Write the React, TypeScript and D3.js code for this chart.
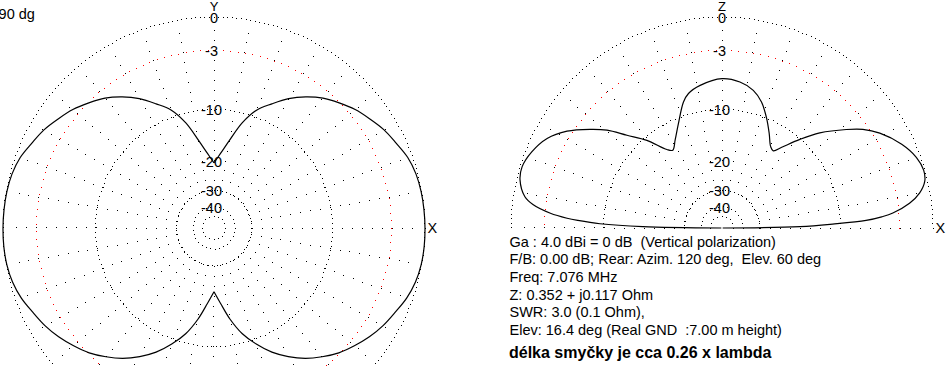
import React from 'react';
import * as d3 from 'd3';

const W = 948;
const H = 366;
const R = 211;
const leftCenter: [number, number] = [214, 228];
const rightCenter: [number, number] = [722, 228];

// grid rings (dB) and labels
const ringDb = [0, -10, -30, -40, -50];
const redRingDb = -3;
const labelDb = [0, -3, -10, -20, -30, -40];
const labelText = ['0', '-3', '-10', '-20', '-30', '-40'];
const spokeStepDeg = 10;

// azimuth pattern (horizontal plane), gain in dB every 5 deg, CCW from +X
const azStepDeg = 5;
const azGainDb = [
  0, -0.02, -0.06, -0.16, -0.4, -0.85, -1.25, -1.8, -2.35, -3.05, -3.8, -4.8, -6.0, -7.5, -9.0, -11.5, -15.0, -18.0,
  -20.4,
  -18.0, -15.0, -11.5, -9.0, -7.5, -6.0, -4.8, -3.8, -3.05, -2.35, -1.8, -1.25, -0.85, -0.4, -0.16, -0.06, -0.02,
  0,
  0, -0.05, -0.2, -0.5, -0.95, -1.35, -1.85, -2.45, -3.1, -3.95, -4.9, -6.1, -7.5, -9.3, -11.4, -14.3, -17.8,
  -20.8,
  -17.8, -14.3, -11.4, -9.3, -7.5, -6.1, -4.9, -3.95, -3.1, -2.45, -1.85, -1.35, -0.95, -0.5, -0.2, -0.05, 0,
];

// elevation pattern (vertical plane), angle from +X horizon
const elevAngleDeg = [
  0, 1, 2, 3, 4, 5, 7.5, 10, 13, 16, 20, 25, 31, 35, 38.4, 44.2, 48.7, 53.5, 56.4, 59.1, 63.5, 67.8, 72.6, 77.2, 83,
  90,
  98.7, 104, 107, 112.6, 118.1, 122.3, 125.1, 130.6, 135.7, 139.6, 143.2, 148, 152.9, 158.2, 163, 166.6, 171, 173,
  175.1, 176.4, 177, 178, 179, 180,
];
const elevGainDb = [
  -99, -17.3, -11.2, -6.6, -4.8, -3.6, -1.9, -0.88, -0.24, -0.1, -0.35, -1.08, -2.37, -3.55, -4.96, -7.58, -10.1,
  -12.9, -14.3, -13.9, -12.0, -10.06, -8.14, -6.98, -6.27,
  -6.0,
  -6.6, -7.3, -8.18, -10.8, -13.05, -14.4, -13.7, -10.47, -8.04, -5.81, -4.3, -2.5, -1.24, -0.51, -0.16, -0.28,
  -0.97, -1.81, -3.53, -5.33, -6.6, -9.5, -17.0, -99,
];

const cornerText = '90 dg';
const infoLines = [
  'Ga : 4.0 dBi = 0 dB  (Vertical polarization)',
  'F/B: 0.00 dB; Rear: Azim. 120 deg,  Elev. 60 deg',
  'Freq: 7.076 MHz',
  'Z: 0.352 + j0.117 Ohm',
  'SWR: 3.0 (0.1 Ohm),',
  'Elev: 16.4 deg (Real GND  :7.00 m height)',
];
const boldLine = 'délka smyčky je cca 0.26 x lambda';

const FONT = '"Liberation Sans", Arial, sans-serif';

const amp = d3.scaleSqrt().domain([0, 1]).range([0, R]);
const rOf = (db: number) => amp(Math.pow(10, db / 20));
const rad = (deg: number) => (deg * Math.PI) / 180;

function ringDots(cx: number, cy: number, r: number, spacing: number, half: boolean) {
  const n = Math.max(8, Math.round((2 * Math.PI * r) / spacing));
  const pts: [number, number][] = [];
  for (let i = 0; i < n; i++) {
    const a = (i / n) * 2 * Math.PI;
    const x = cx + r * Math.cos(a);
    const y = cy - r * Math.sin(a);
    if (half && y > cy + 0.6) continue;
    pts.push([Math.round(x - 0.5), Math.round(y - 0.5)]);
  }
  return pts;
}

function spokeDots(cx: number, cy: number, half: boolean) {
  const pts: [number, number][] = [];
  const maxA = half ? 180 : 350;
  const rMin = rOf(-30);
  for (let a = 0; a <= maxA; a += spokeStepDeg) {
    for (let k = 1; ; k++) {
      const r = R - 3 - 10 * k;
      if (r < rMin) break;
      pts.push([Math.round(cx + r * Math.cos(rad(a)) - 0.5), Math.round(cy - r * Math.sin(rad(a)) - 0.5)]);
    }
  }
  return pts;
}

type P = { a: number; g: number };

const radial = d3
  .lineRadial<P>()
  .angle((d) => Math.PI / 2 - rad(d.a))
  .radius((d) => rOf(d.g))
  .curve(d3.curveCatmullRom.alpha(0.5));

function Grid({ c, half, axisTop, axisRight }: { c: [number, number]; half: boolean; axisTop: string; axisRight: string }) {
  const [cx, cy] = c;
  const black: [number, number][] = [];
  ringDb.forEach((db) => black.push(...ringDots(cx, cy, rOf(db), 4.6, half)));
  black.push(...spokeDots(cx, cy, half));
  const red = ringDots(cx, cy, rOf(redRingDb), 7.5, half);
  return (
    <g>
      <g shapeRendering="crispEdges">
        {black.map(([x, y], i) => (
          <rect key={'b' + i} x={x} y={y} width={1} height={1} fill="#000" />
        ))}
        {red.map(([x, y], i) => (
          <rect key={'r' + i} x={x} y={y} width={1} height={1} fill="#ff0000" />
        ))}
      </g>
      {labelDb.map((db, i) => (
        <text
          key={'l' + i}
          x={db === 0 ? cx : cx - 2.5}
          y={cy - rOf(db) + 5.6}
          textAnchor="middle"
          fontFamily={FONT}
          fontSize={14.5}
          fill="#000"
        >
          {labelText[i]}
        </text>
      ))}
      <text x={cx} y={10.5} textAnchor="middle" fontFamily={FONT} fontSize={13} fill="#000">
        {axisTop}
      </text>
      <text x={cx + R + 2.5} y={233} fontFamily={FONT} fontSize={14.5} fill="#000">
        {axisRight}
      </text>
    </g>
  );
}

export default function App() {
  const azPts: P[] = azGainDb.map((g, i) => ({ a: i * azStepDeg, g }));
  const idx90 = Math.round(90 / azStepDeg);
  const idx270 = Math.round(270 / azStepDeg);
  const rightLobe = [...azPts.slice(idx270), ...azPts.slice(0, idx90 + 1)];
  const leftLobe = azPts.slice(idx90, idx270 + 1);
  const elevPts: P[] = elevAngleDeg.map((a, i) => ({ a, g: elevGainDb[i] }));

  return (
    <svg
      width={W}
      height={H}
      viewBox={`0 0 ${W} ${H}`}
      style={{ position: 'fixed', left: 0, top: 0, background: '#fff', display: 'block' }}
    >
      <rect x={0} y={0} width={W} height={H} fill="#fff" />
      <Grid c={leftCenter} half={false} axisTop="Y" axisRight="X" />
      <Grid c={rightCenter} half={true} axisTop="Z" axisRight="X" />

      <g transform={`translate(${leftCenter[0]},${leftCenter[1]})`} fill="none" stroke="#000" strokeWidth={1.2}>
        <path d={radial(rightLobe) || ''} />
        <path d={radial(leftLobe) || ''} />
      </g>
      <g transform={`translate(${rightCenter[0]},${rightCenter[1]})`} fill="none" stroke="#000" strokeWidth={1.2}>
        <path d={radial(elevPts) || ''} />
      </g>

      <text x={-1.4} y={19} fontFamily={FONT} fontSize={14.5} fill="#000">
        {cornerText}
      </text>

      {infoLines.map((t, i) => (
        <text key={i} x={509.5} y={246.7 + 17.6 * i} fontFamily={FONT} fontSize={14.5} fill="#000" style={{ whiteSpace: 'pre' }}>
          {t}
        </text>
      ))}
      <text x={509} y={357.7} fontFamily={FONT} fontSize={16} fontWeight="bold" fill="#000">
        {boldLine}
      </text>
    </svg>
  );
}
